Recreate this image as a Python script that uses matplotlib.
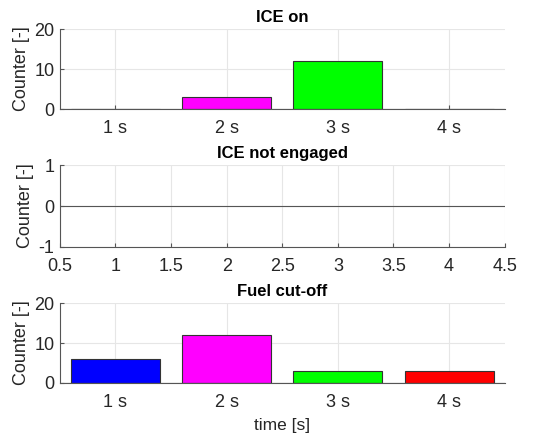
import matplotlib
matplotlib.use('Agg')
import matplotlib.pyplot as plt
import numpy as np

plt.rcParams['font.family'] = ['Liberation Sans', 'DejaVu Sans']
plt.rcParams['axes.unicode_minus'] = False

steps = [1, 2, 3, 4]
step_labels = ['1 s', '2 s', '3 s', '4 s']
bar_colors = ['#0000ff', '#ff00ff', '#00ff00', '#ff0000']

ice_on = [0, 3, 12, 0]
ice_not_engaged = [0, 0, 0, 0]
fuel_cutoff = [6, 12, 3, 3]

fig = plt.figure(figsize=(5.54, 4.36), dpi=100)

axes_pos = [
    [0.108, 0.750, 0.803, 0.183],
    [0.108, 0.4335, 0.803, 0.188],
    [0.108, 0.1216, 0.803, 0.183],
]
titles = ['ICE on', 'ICE not engaged', 'Fuel cut-off']
series = [ice_on, ice_not_engaged, fuel_cutoff]

for i, (pos, title, vals) in enumerate(zip(axes_pos, titles, series)):
    ax = fig.add_axes(pos)
    if i != 1:
        ax.bar(steps, vals, width=0.8, color=bar_colors, edgecolor='#333333',
               linewidth=0.8, zorder=2)
        ax.set_ylim(0, 20)
        ax.set_yticks([0, 10, 20])
        ax.set_xticks(steps)
        ax.set_xticklabels(step_labels)
    else:
        ax.set_ylim(-1, 1)
        ax.set_yticks([-1, 0, 1])
        ax.set_xticks(np.arange(0.5, 4.51, 0.5))
        ax.set_xticklabels(['0.5', '1', '1.5', '2', '2.5', '3', '3.5', '4', '4.5'])
    ax.set_xlim(0.5, 4.5)
    ax.axhline(0, color='#555555', linewidth=0.8, zorder=3)
    ax.grid(True, color='#e6e6e6', linewidth=0.8, zorder=0)
    ax.set_axisbelow(True)
    for s in ['top', 'right']:
        ax.spines[s].set_visible(False)
    for s in ['left', 'bottom']:
        ax.spines[s].set_color('#555555')
        ax.spines[s].set_linewidth(0.8)
    ax.tick_params(axis='y', labelsize=13, colors='#262626', length=3,
                   direction='in', width=0.8, pad=4)
    ax.tick_params(axis='x', labelsize=13, colors='#262626', length=3,
                   direction='in', width=0.8, pad=8)
    ax.tick_params(axis='both', color='#555555')
    ax.set_title(title, fontsize=12, fontweight='bold', pad=5)
    ax.set_ylabel('Counter [-]', fontsize=13, color='#262626', labelpad=3)

ax.set_xlabel('time [s]', fontsize=12.5, color='#262626', labelpad=5)

fig.savefig('out.png', dpi=100, facecolor='white')
